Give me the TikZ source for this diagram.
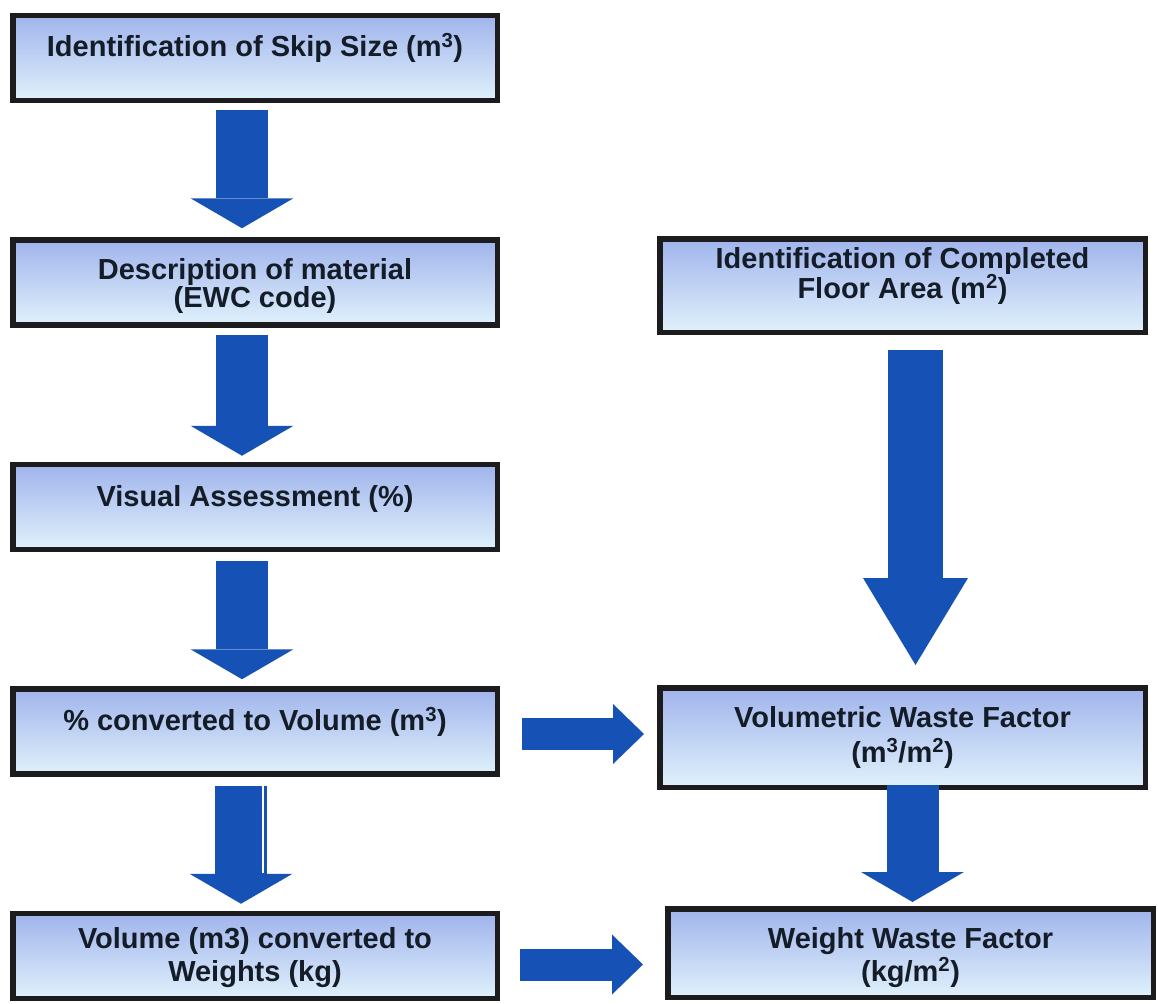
\documentclass[tikz,border=0pt]{standalone}
\usepackage{fontspec}
\setmainfont{Liberation Sans}
\usepackage{xcolor}
\usetikzlibrary{positioning,arrows.meta}

\definecolor{boxtop}{RGB}{160,180,236}
\definecolor{boxmid}{RGB}{202,228,247}
\definecolor{boxbot}{RGB}{224,241,251}
\definecolor{boxline}{RGB}{28,28,30}
\definecolor{arrowblue}{RGB}{22,82,182}
\definecolor{textdark}{RGB}{20,28,40}

\begin{document}
\begin{tikzpicture}[x=1pt,y=-1pt,
    stepbox/.style={draw=boxline, line width=5.5pt, top color=boxtop, middle color=boxmid, bottom color=boxbot,
        align=center, text=textdark, inner sep=0pt, font=\fontsize{29}{33}\selectfont\bfseries,
        minimum width=484.5pt, minimum height=85pt},
    oneline/.style={text height=12pt, text depth=14pt},
    twoline/.style 2 args={font=\fontsize{29}{#1}\selectfont\bfseries, text height=#2, text depth=0pt},
    downarrow/.style={draw=arrowblue, line width=52pt, -{Triangle[length=30pt,width=103pt,line width=0pt]}},
    longarrow/.style={draw=arrowblue, line width=55pt, -{Triangle[length=87pt,width=105pt,line width=0pt]}},
    rightarrow/.style={draw=arrowblue, line width=32pt, -{Triangle[length=31pt,width=60pt,line width=0pt]}}]
    \useasboundingbox (0,0) rectangle (1158,1003);

    \node[stepbox, oneline] (skip) at (255,58) {Identification of Skip Size (m\textsuperscript{3})};
    \node[stepbox, twoline={28}{49pt}, below=134pt of skip] (material) {Description of material\\(EWC code)};
    \node[stepbox, oneline, below=134pt of material] (visual) {Visual Assessment (\%)};
    \node[stepbox, oneline, below=134pt of visual] (volume) {\% converted to Volume (m\textsuperscript{3})};
    \node[stepbox, twoline={33}{51pt}, below=134pt of volume] (weights) {Volume (m3) converted to\\Weights (kg)};

    \node[stepbox, twoline={30}{25pt}, minimum width=485.5pt, minimum height=93.5pt,
        right=157pt of material, yshift=-3pt] (floor) {Identification of Completed\\Floor Area (m\textsuperscript{2})};
    \node[stepbox, twoline={35}{49pt}, minimum width=485.5pt, minimum height=99.5pt, below=350pt of floor] (volfactor) {Volumetric Waste Factor\\(m\textsuperscript{3}/m\textsuperscript{2})};
    \node[stepbox, twoline={33}{56pt}, minimum width=485.5pt, minimum height=88.5pt, below=116pt of volfactor, xshift=8pt] (wtfactor) {Weight Waste Factor\\(kg/m\textsuperscript{2})};

    \draw[downarrow] ([xshift=-13pt,yshift=-7pt]skip.south) -- ([xshift=-13pt,yshift=9pt]material.north);
    \draw[downarrow] ([xshift=-13pt,yshift=-7pt]material.south) -- ([xshift=-13pt,yshift=6pt]visual.north);
    \draw[downarrow] ([xshift=-13pt,yshift=-9pt]visual.south) -- ([xshift=-13pt,yshift=7pt]volume.north);
    \draw[downarrow] ([xshift=-14pt,yshift=-9pt]volume.south) -- ([xshift=-14pt,yshift=7pt]weights.north);
    \draw[white, line width=1.5pt] ([xshift=8pt,yshift=-9pt]volume.south) -- ++(0,87);

    \draw[longarrow] ([xshift=13pt,yshift=-15pt]floor.south) -- ([xshift=13pt,yshift=20pt]volfactor.north);
    \draw[downarrow] ([xshift=10pt,yshift=5pt]volfactor.south) -- ([xshift=2pt,yshift=4pt]wtfactor.north);

    \draw[rightarrow] ([xshift=22pt,yshift=-2.5pt]volume.east) -- ([xshift=-13pt,yshift=-2.5pt]volume.east -| volfactor.west);
    \draw[rightarrow] ([xshift=20pt,yshift=-8.5pt]weights.east) -- ([xshift=-22pt,yshift=-8.5pt]weights.east -| wtfactor.west);
\end{tikzpicture}
\end{document}
